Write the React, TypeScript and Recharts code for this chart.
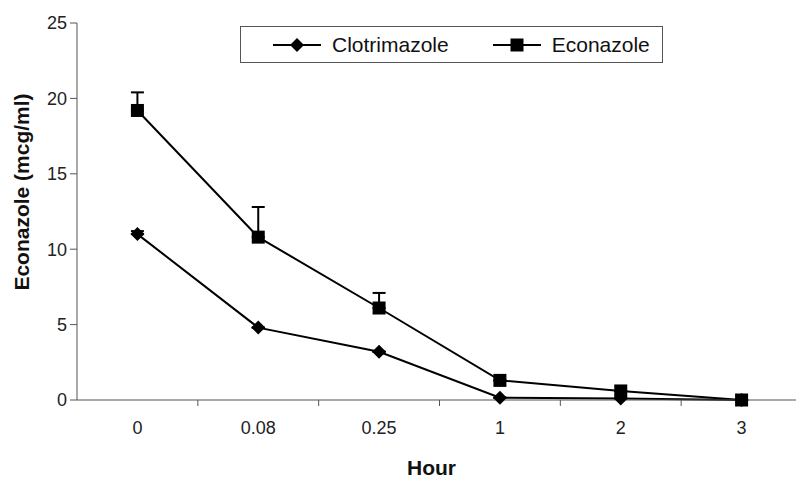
import React from 'react';
import { LineChart, Line, XAxis, YAxis, ErrorBar } from 'recharts';

// time points (hours) shown as evenly spaced categories
const HOURS = ['0', '0.08', '0.25', '1', '2', '3'];
const CLOTRIMAZOLE = [11.0, 4.8, 3.2, 0.15, 0.1, 0];
const CLOTRIMAZOLE_SD = [0.2, 0, 0, 0, 0, 0];
const ECONAZOLE = [19.2, 10.8, 6.1, 1.3, 0.6, 0];
const ECONAZOLE_SD = [1.2, 2.0, 1.0, 0, 0, 0];
const Y_TICKS = [0, 5, 10, 15, 20, 25];

const FONT = 'Arial, "Liberation Sans", Helvetica, sans-serif';
const AXIS = '#555';

const data = HOURS.map((h, i) => ({
  idx: i,
  hour: h,
  clot: CLOTRIMAZOLE[i],
  clotErr: [0, CLOTRIMAZOLE_SD[i]],
  econ: ECONAZOLE[i],
  econErr: [0, ECONAZOLE_SD[i]],
}));

// labels sit on whole indexes, small tick marks sit between categories
const X_TICKS: number[] = [];
for (let i = 0; i < HOURS.length; i++) {
  X_TICKS.push(i);
  if (i < HOURS.length - 1) X_TICKS.push(i + 0.5);
}

function Diamond({ cx, cy, key }: any) {
  if (cx == null || cy == null) return <g key={key} />;
  const r = 7;
  return (
    <polygon
      key={key}
      points={`${cx},${cy - r} ${cx + r},${cy} ${cx},${cy + r} ${cx - r},${cy}`}
      fill="#000"
    />
  );
}

function Square({ cx, cy, key }: any) {
  if (cx == null || cy == null) return <g key={key} />;
  const s = 13;
  return <rect key={key} x={cx - s / 2} y={cy - s / 2} width={s} height={s} fill="#000" />;
}

function HourTick({ x, y, payload }: any) {
  const v = payload.value;
  if (Number.isInteger(v)) {
    return (
      <text x={x} y={y + 28} dy="0.355em" textAnchor="middle" fontSize={18} fill="#222" fontFamily={FONT}>
        {HOURS[v]}
      </text>
    );
  }
  return <line x1={x} x2={x} y1={y} y2={y + 6} stroke={AXIS} strokeWidth={1} />;
}

function LegendBox() {
  const item = (icon: React.ReactNode, label: string, gap: number) => (
    <div style={{ display: 'flex', alignItems: 'center', marginLeft: gap }}>
      <svg width={48} height={16}>
        <line x1={0} x2={48} y1={8} y2={8} stroke="#000" strokeWidth={2} />
        {icon}
      </svg>
      <span style={{ marginLeft: 11 }}>{label}</span>
    </div>
  );
  return (
    <div
      style={{
        position: 'absolute',
        left: 240,
        top: 26,
        width: 421,
        height: 35,
        border: '1px solid #555',
        display: 'flex',
        alignItems: 'center',
        fontFamily: FONT,
        fontSize: 21,
        color: '#111',
      }}
    >
      {item(<polygon points="24,1 31,8 24,15 17,8" fill="#000" />, 'Clotrimazole', 32)}
      {item(<rect x={17.5} y={1.5} width={13} height={13} fill="#000" />, 'Econazole', 44)}
    </div>
  );
}

export default function App() {
  return (
    <div
      style={{
        position: 'absolute',
        left: 0,
        top: 0,
        width: 796,
        height: 478,
        overflow: 'hidden',
        background: '#fff',
      }}
    >
      <LineChart width={805} height={478} data={data} margin={{ top: 23, right: 3, left: 0, bottom: 0 }}>
        <XAxis
          dataKey="idx"
          type="number"
          domain={[-0.5, HOURS.length - 0.5]}
          ticks={X_TICKS}
          interval={0}
          height={78}
          tickSize={0}
          tickMargin={0}
          tick={<HourTick />}
          stroke={AXIS}
          label={{
            content: ({ viewBox }: any) => (
              <text
                x={viewBox.x + viewBox.width / 2 - 8}
                y={468}
                dy="0.355em"
                textAnchor="middle"
                fontSize={21}
                fontWeight="bold"
                fontFamily={FONT}
                fill="#111"
              >
                Hour
              </text>
            ),
          }}
        />
        <YAxis
          domain={[0, 25]}
          ticks={Y_TICKS}
          width={77}
          tickSize={7}
          tickMargin={3}
          stroke={AXIS}
          tick={{ fontSize: 18, fill: '#222', fontFamily: FONT }}
          label={{
            content: () => (
              <text
                x={22}
                y={192}
                dy="0.355em"
                transform="rotate(-90 22 192)"
                textAnchor="middle"
                fontSize={21}
                fontWeight="bold"
                fontFamily={FONT}
                fill="#111"
              >
                Econazole (mcg/ml)
              </text>
            ),
          }}
        />
        <Line
          dataKey="clot"
          type="linear"
          stroke="#000"
          strokeWidth={2}
          dot={(p: any) => <Diamond {...p} key={p.key} />}
          isAnimationActive={false}
        >
          <ErrorBar dataKey="clotErr" direction="y" width={6.5} stroke="#000" strokeWidth={2} />
        </Line>
        <Line
          dataKey="econ"
          type="linear"
          stroke="#000"
          strokeWidth={2}
          dot={(p: any) => <Square {...p} key={p.key} />}
          isAnimationActive={false}
        >
          <ErrorBar dataKey="econErr" direction="y" width={6.5} stroke="#000" strokeWidth={2} />
        </Line>
      </LineChart>
      <LegendBox />
    </div>
  );
}
